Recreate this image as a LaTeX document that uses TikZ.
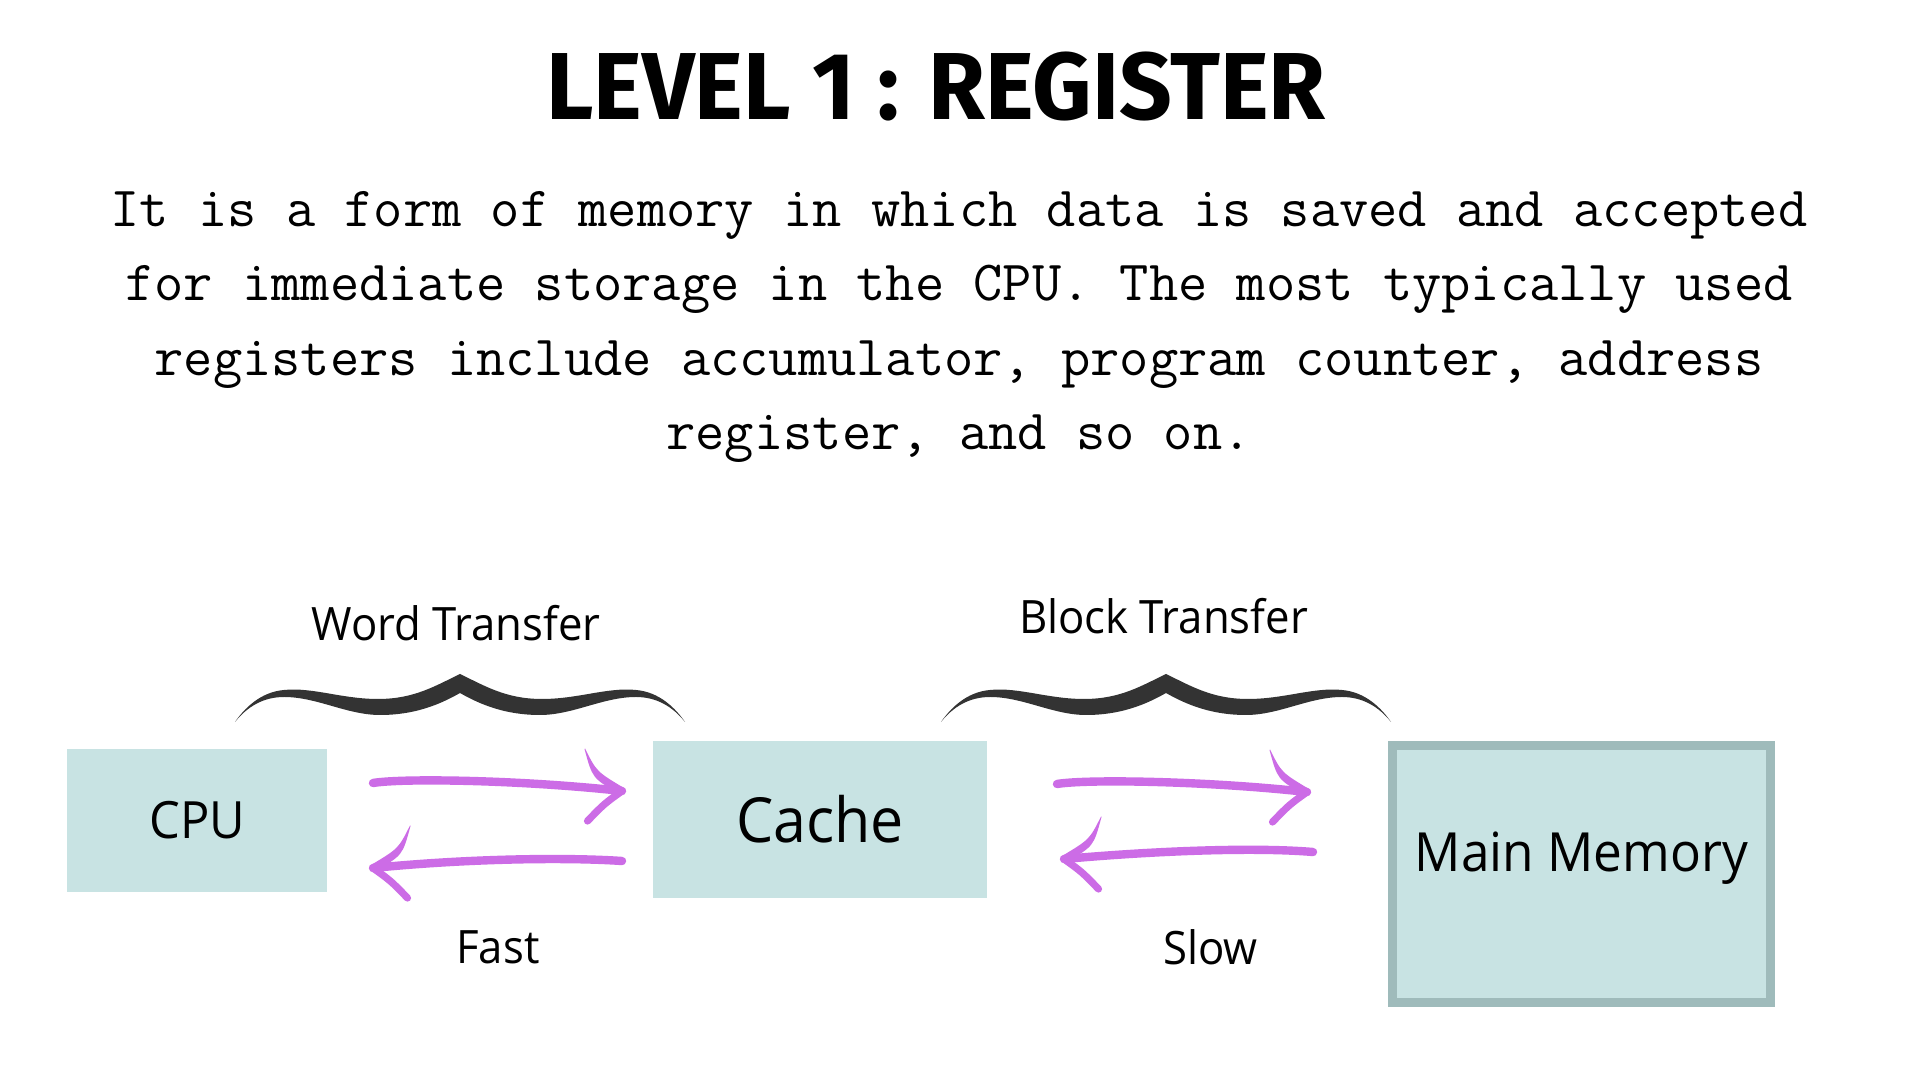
\documentclass[tikz,border=0pt]{standalone}
\usepackage{fontspec}
\newfontfamily\titlefont[FakeStretch=0.97]{Fira Sans}
\newfontfamily\labelfont[FakeStretch=0.95]{Open Sans}
\usetikzlibrary{positioning}

\definecolor{boxfill}{HTML}{C8E3E3}
\definecolor{boxrim}{HTML}{9FBBBB}
\definecolor{bracegray}{HTML}{333333}
\definecolor{brushpurple}{HTML}{CC6CE6}

% curly brace, tip at (0,0), ends 225 to each side, 48 below the tip
\newcommand{\bracepath}{%
  (-225,-48) .. controls (-216,-35) and (-200,-18) .. (-176,-16)
  .. controls (-148,-13) and (-118,-25) .. (-82,-25)
  .. controls (-46,-25) and (-25,-12) .. (0,0)
  .. controls (25,-12) and (46,-25) .. (82,-25)
  .. controls (118,-25) and (148,-13) .. (176,-16)
  .. controls (200,-18) and (216,-35) .. (225,-48)
  .. controls (213,-33) and (197,-23) .. (176,-23)
  .. controls (143,-23) and (113,-41) .. (80,-41)
  .. controls (46,-41) and (21,-31) .. (0,-19)
  .. controls (-21,-31) and (-46,-41) .. (-80,-41)
  .. controls (-113,-41) and (-143,-23) .. (-176,-23)
  .. controls (-197,-23) and (-213,-33) .. (-225,-48) -- cycle}

% open arrow head at #1, pointing right (#2 = 1) or left (#2 = -1)
% upper barb tapers towards its free end, lower barb is a plain stroke
\newcommand{\brushhead}[2]{%
  \begin{scope}[shift={(#1)}, xscale=#2]
    \fill[brushpurple] (-37,42.5) .. controls (-25.5,19.5) .. (2,3)
      -- (-2,-3) .. controls (-29.5,12.5) .. (-37.5,42) -- cycle;
    \draw[brushtip] (0,0) .. controls (-18,-13) .. (-34.5,-30);
  \end{scope}}

\tikzset{
  box/.style={rectangle, fill=boxfill, inner sep=0pt},
  membox/.style={box, draw=boxrim, line width=4.5pt},
  lbl/.style={inner sep=0pt, font=\labelfont\fontsize{23}{28}\selectfont},
  para/.style={anchor=base, inner sep=0pt, font=\ttfamily\fontsize{28.4}{34}\selectfont},
  brush/.style={draw=brushpurple, line width=4.2pt, line cap=round},
  brushtip/.style={brush, line width=3.6pt},
}

\begin{document}
\begin{tikzpicture}[x=0.5pt, y=0.5pt]
    % 1920 x 1080 canvas, one unit is one pixel
    \fill[white] (0,0) rectangle (1920,1080);
    \useasboundingbox (0,0) rectangle (1920,1080);

    \node (title) at (936,993)
        {\titlefont\bfseries\fontsize{47.6}{56}\selectfont LEVEL 1 : REGISTER};

    \foreach \txt [count=\i] in {%
        {It is a form of memory in which data is saved and accepted},
        {for immediate storage in the CPU. The most typically used},
        {registers include accumulator, program counter, address},
        {register, and so on.}}
        \node[para] (line\i) at (959, {853.5 - 74.5*(\i-1)}) {\txt};

    % memory levels
    \node[box, minimum width=129.8pt, minimum height=71.6pt,
          font=\labelfont\fontsize{25.7}{30}\selectfont] (cpu) at (197.2,259.8) {CPU};
    \node[box, minimum width=167.2pt, minimum height=78.5pt,
          font=\labelfont\fontsize{31.1}{36}\selectfont] (cache) at (820.2,260.5) {Cache};
    \node[membox, minimum width=189pt, minimum height=128.5pt] (mainmem) at (1581.5,206) {};
    \node[lbl, font=\labelfont\fontsize{27}{32}\selectfont] (memtext) at (1581.5,222) {Main Memory};

    % braces and their labels
    \foreach \cx in {460, 1166}
        \fill[bracegray, shift={(\cx,406)}] \bracepath;
    \node[lbl] (word)  at (456,457)    {Word Transfer};
    \node[lbl] (block) at (1163.5,464) {Block Transfer};
    \node[lbl] (fast)  at (498,133)    {Fast};
    \node[lbl] (slow)  at (1210.5,133) {Slow};

    % transfer arrows: start and tip of each stroke
    \coordinate (toCacheS) at (373,297);
    \coordinate (toCacheT) at (622,289);
    \coordinate (toCpuS)   at (622,219);
    \coordinate (toCpuT)   at (373,212);
    \coordinate (toMemS)   at (1057,296);
    \coordinate (toMemT)   at (1307,288);
    \coordinate (fromMemS) at (1313,228);
    \coordinate (fromMemT) at (1064,221);

    \draw[brush] (toCacheS) .. controls +(30,5) and +(-100,11) .. (toCacheT);
    \draw[brush] (toCpuS) .. controls +(-60,4) and +(90,9) .. (toCpuT);
    \draw[brush] (toMemS) .. controls +(30,5) and +(-100,11) .. (toMemT);
    \draw[brush] (fromMemS) .. controls +(-60,5) and +(90,8) .. (fromMemT);
    \brushhead{toCacheT}{1}
    \brushhead{toCpuT}{-1}
    \brushhead{toMemT}{1}
    \brushhead{fromMemT}{-1}
\end{tikzpicture}
\end{document}
